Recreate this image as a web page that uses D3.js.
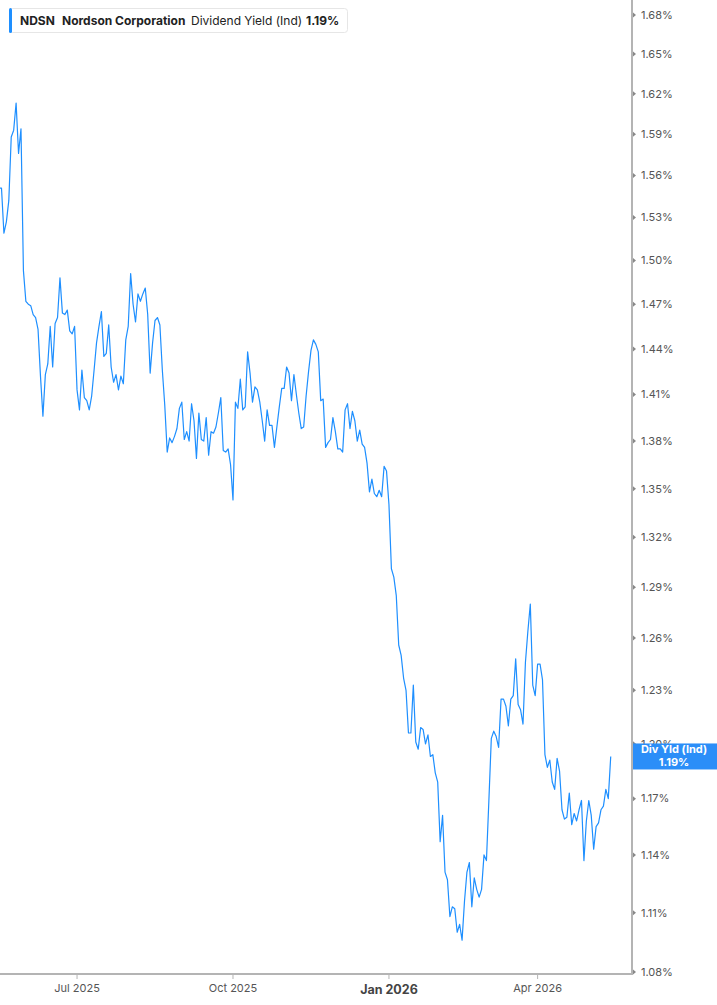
<!DOCTYPE html>
<html>
<head>
<meta charset="utf-8">
<script src="https://cdn.jsdelivr.net/npm/d3@7"></script>
<style>
  html, body { margin: 0; padding: 0; background: #fff; }
  svg { display: block; font-family: Inter, Roboto, "Noto Sans", sans-serif; }
</style>
</head>
<body>
<svg id="chart" width="717" height="1005"></svg>
<script>
// ---------------- DATA ----------------
const ticker = "NDSN";
const companyName = "Nordson Corporation";
const metricName = "Dividend Yield (Ind)";
const badgeTitle = "Div Yld (Ind)";

const startDate = "2025-05-14";
const endDate = "2026-05-14";
const marketHolidays = ["2025-05-26","2025-06-19","2025-07-04","2025-09-01","2025-11-27",
  "2025-12-25","2026-01-01","2026-01-19","2026-02-16","2026-04-03"];

// daily dividend yield (%), one value per trading day
const yieldValues = [
  1.551,1.551,1.519,1.527,1.542,1.588,1.593,1.613,1.576,1.594,
  1.493,1.472,1.470,1.469,1.463,1.461,1.453,1.422,1.396,1.423,
  1.430,1.455,1.428,1.457,1.461,1.488,1.464,1.463,1.466,1.452,
  1.450,1.455,1.413,1.400,1.426,1.408,1.406,1.400,1.409,1.426,
  1.444,1.455,1.465,1.435,1.437,1.456,1.428,1.418,1.423,1.413,
  1.422,1.417,1.446,1.455,1.491,1.470,1.458,1.477,1.472,1.477,
  1.481,1.463,1.424,1.444,1.459,1.461,1.456,1.426,1.403,1.373,
  1.382,1.379,1.383,1.388,1.401,1.405,1.381,1.386,1.380,1.404,
  1.393,1.369,1.398,1.381,1.380,1.395,1.371,1.386,1.385,1.389,
  1.398,1.408,1.374,1.373,1.375,1.365,1.343,1.405,1.401,1.420,
  1.400,1.402,1.438,1.424,1.405,1.415,1.413,1.405,1.393,1.380,
  1.400,1.390,1.390,1.376,1.389,1.402,1.414,1.414,1.428,1.424,
  1.406,1.423,1.410,1.398,1.388,1.389,1.409,1.425,1.439,1.446,
  1.443,1.438,1.406,1.407,1.376,1.379,1.381,1.395,1.386,1.375,
  1.375,1.373,1.400,1.404,1.388,1.399,1.393,1.380,1.387,1.378,
  1.376,1.366,1.348,1.356,1.347,1.345,1.349,1.345,1.364,1.361,
  1.340,1.301,1.296,1.285,1.256,1.250,1.237,1.230,1.206,1.206,
  1.233,1.201,1.197,1.209,1.208,1.200,1.205,1.193,1.194,1.184,
  1.179,1.147,1.161,1.131,1.127,1.108,1.113,1.112,1.100,1.104,
  1.096,1.116,1.131,1.136,1.113,1.128,1.122,1.118,1.122,1.140,
  1.137,1.169,1.203,1.207,1.204,1.198,1.225,1.225,1.221,1.210,
  1.225,1.227,1.248,1.222,1.219,1.211,1.246,1.264,1.280,1.233,
  1.227,1.245,1.245,1.236,1.194,1.187,1.191,1.179,1.175,1.192,
  1.185,1.164,1.159,1.160,1.173,1.156,1.162,1.158,1.164,1.169,
  1.137,1.158,1.169,1.161,1.143,1.155,1.157,1.164,1.166,1.175,
  1.170,1.193
];

const yTickValues = [1.08,1.11,1.14,1.17,1.20,1.23,1.26,1.29,1.32,1.35,1.38,1.41,1.44,1.47,1.50,1.53,1.56,1.59,1.62,1.65,1.68];
const xTickMonths = ["2025-07","2025-10","2026-01","2026-04"];
const xTickLabels = ["Jul 2025","Oct 2025","Jan 2026","Apr 2026"];
const xTickBold = [false,false,true,false];

// ---------------- BUILD TRADING CALENDAR ----------------
const fmtDay = d3.utcFormat("%Y-%m-%d");
const fmtMonth = d3.utcFormat("%Y-%m");
const holidaySet = new Set(marketHolidays);
const tradingDays = d3.utcDays(new Date(startDate + "T00:00:00Z"), d3.utcDay.offset(new Date(endDate + "T00:00:00Z"), 1))
  .filter(d => d.getUTCDay() !== 0 && d.getUTCDay() !== 6 && !holidaySet.has(fmtDay(d)));
const data = yieldValues.map((v, i) => ({ i, date: tradingDays[i], value: v }));

// ---------------- LAYOUT ----------------
const W = 717, H = 1005;
const plotLeft = 0, plotRight = 632, plotTop = 0, plotBottom = 974;

const svg = d3.select("#chart");

const x = d3.scaleLinear().domain([0.39, 259.73]).range([plotLeft, plotRight]);
const y = d3.scaleLog().domain([1.08, 1.68]).range([972, 15]);

svg.append("defs").append("clipPath").attr("id", "plotClip")
  .append("rect").attr("x", plotLeft).attr("y", plotTop)
  .attr("width", plotRight - plotLeft).attr("height", plotBottom - plotTop);

// ---------------- AXES ----------------
const axisColor = "#b4b4b4";
const labelColor = "#555";

// y axis (right)
const yAxisG = svg.append("g").attr("class", "y-axis");
yAxisG.selectAll("path.ytick").data(yTickValues).join("path")
  .attr("class", "ytick")
  .attr("d", d => `M${plotRight + 1},${y(d) - 2.5}L${plotRight + 4},${y(d)}L${plotRight + 1},${y(d) + 2.5}Z`)
  .attr("fill", "#888");
yAxisG.selectAll("text").data(yTickValues).join("text")
  .attr("x", plotRight + 9)
  .attr("y", d => y(d))
  .attr("dy", "0.35em")
  .attr("font-size", 11)
  .attr("fill", labelColor)
  .text(d => d3.format(".2f")(d) + "%");

// x axis (bottom)
const xTickIdx = xTickMonths.map(m => data.findIndex(d => d.date && fmtMonth(d.date) === m));
const xAxisG = svg.append("g").attr("class", "x-axis");
xAxisG.selectAll("line").data(xTickIdx).join("line")
  .attr("x1", d => x(d)).attr("x2", d => x(d))
  .attr("y1", plotBottom).attr("y2", plotBottom + 5)
  .attr("stroke", axisColor).attr("stroke-width", 1);
xAxisG.selectAll("text").data(xTickIdx).join("text")
  .attr("x", d => x(d))
  .attr("y", (d, k) => xTickBold[k] ? 994 : 992)
  .attr("text-anchor", "middle")
  .attr("font-size", (d, k) => xTickBold[k] ? 12.5 : 11)
  .attr("font-weight", (d, k) => xTickBold[k] ? 700 : 400)
  .attr("fill", (d, k) => xTickBold[k] ? "#444" : labelColor)
  .text((d, k) => xTickLabels[k]);

// axis lines
svg.append("line").attr("x1", plotLeft).attr("x2", plotRight + 1)
  .attr("y1", plotBottom).attr("y2", plotBottom)
  .attr("stroke", axisColor).attr("stroke-width", 2);
svg.append("line").attr("x1", plotRight).attr("x2", plotRight)
  .attr("y1", 0).attr("y2", plotBottom + 1)
  .attr("stroke", axisColor).attr("stroke-width", 2);

// ---------------- LINE ----------------
const lineColor = "#1e8fff";
const line = d3.line().x(d => x(d.i)).y(d => y(d.value));
svg.append("path").datum(data)
  .attr("clip-path", "url(#plotClip)")
  .attr("d", line)
  .attr("fill", "none")
  .attr("stroke", lineColor)
  .attr("stroke-width", 1.2)
  .attr("stroke-linejoin", "round");

// ---------------- BADGE ----------------
const last = data[data.length - 1];
const badgeH = 26;
const badgeG = svg.append("g");
badgeG.append("rect")
  .attr("x", plotRight + 1).attr("y", y(last.value) - badgeH / 2)
  .attr("width", W - plotRight).attr("height", badgeH)
  .attr("fill", "#2b8ef8");
badgeG.append("text")
  .attr("x", 674).attr("y", y(last.value) - 3)
  .attr("text-anchor", "middle").attr("font-size", 11).attr("font-weight", 700)
  .attr("fill", "#fff").text(badgeTitle);
badgeG.append("text")
  .attr("x", 674).attr("y", y(last.value) + 9.5)
  .attr("text-anchor", "middle").attr("font-size", 11).attr("font-weight", 700)
  .attr("fill", "#fff").text(d3.format(".2f")(last.value) + "%");

// ---------------- LEGEND ----------------
const lg = svg.append("g");
lg.append("rect").attr("x", 9.5).attr("y", 8.5).attr("width", 338).attr("height", 24)
  .attr("rx", 3).attr("fill", "#fff").attr("stroke", "#e6e6e6");
lg.append("rect").attr("x", 9).attr("y", 8).attr("width", 3).attr("height", 25)
  .attr("rx", 1.5).attr("fill", lineColor);
const legendItems = [
  { text: ticker, x: 20, w: 700 },
  { text: companyName, x: 62, w: 700 },
  { text: metricName, x: 191, w: 400 },
  { text: d3.format(".2f")(last.value) + "%", x: 306, w: 700 }
];
lg.selectAll("text.lt").data(legendItems).join("text")
  .attr("class", "lt")
  .attr("x", d => d.x).attr("y", 25)
  .attr("font-size", 12).attr("font-weight", d => d.w)
  .attr("fill", "#222")
  .text(d => d.text);
</script>
</body>
</html>
